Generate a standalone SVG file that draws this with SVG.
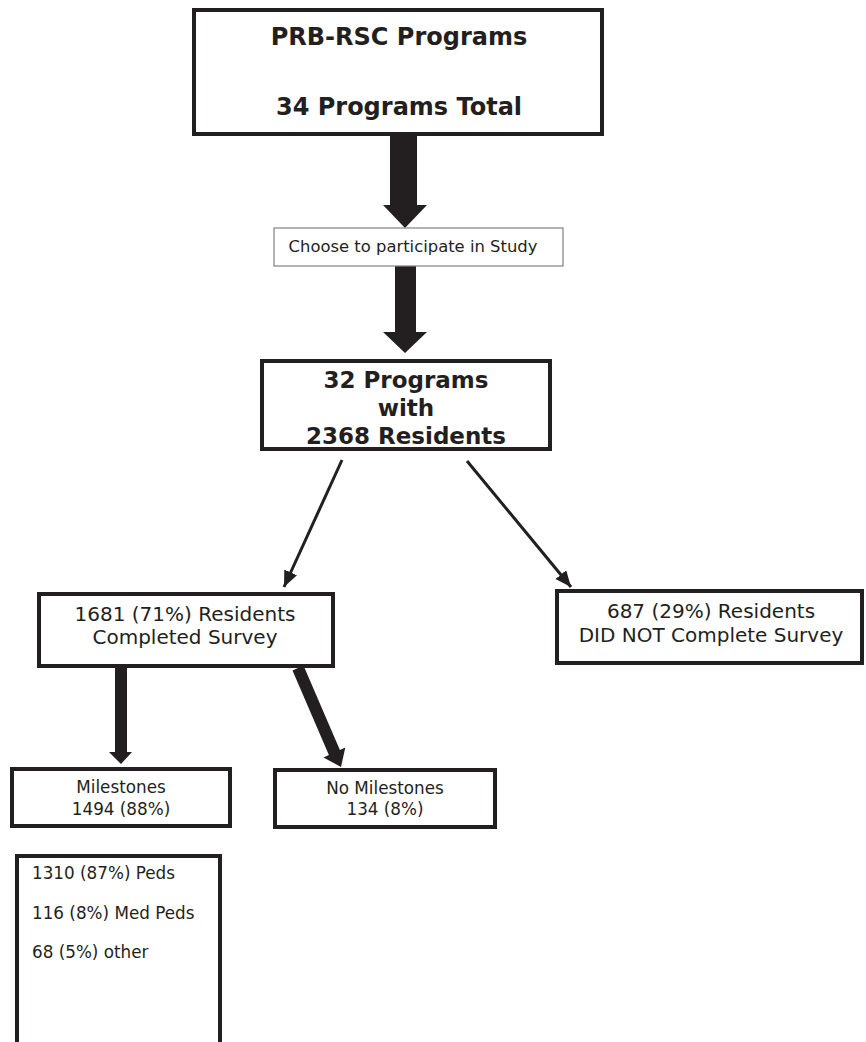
<svg xmlns="http://www.w3.org/2000/svg" width="866" height="1042" viewBox="0 0 866 1042">
  <defs>
    <marker id="thin" markerUnits="userSpaceOnUse" markerWidth="18" markerHeight="16" refX="16" refY="7" orient="auto">
      <path d="M0,0 L16,7 L0,14 Z" fill="#231f20"/>
    </marker>
    <style>
      .box { fill: #fff; stroke: #231f20; stroke-width: 4; }
      .thinbox { fill: #fff; stroke: #808080; stroke-width: 1.2; }
      .blk { fill: #231f20; }
      .conn { stroke: #231f20; stroke-width: 3; fill: none; }
      .t { font-family: "DejaVu Sans", Verdana, sans-serif; fill: #231f20; text-anchor: middle; }
      .b { font-weight: bold; }
      .l { text-anchor: start; }
    </style>
  </defs>
  <rect width="866" height="1042" fill="#fff"/>

  <g id="connectors">
    <polygon class="blk" points="390,134 417,134 417,205 427,205 405,228 383,205 390,205"/>
    <polygon class="blk" points="395,266 416,266 416,332 427,332 405,353 383,332 395,332"/>
    <line class="conn" x1="342" y1="460" x2="284" y2="587" marker-end="url(#thin)"/>
    <line class="conn" x1="467" y1="461" x2="571" y2="587" marker-end="url(#thin)"/>
    <polygon class="blk" points="115,668 127,668 127,752 132,752 121,764 109,752 115,752"/>
    <polygon class="blk" points="303.5,665.5 339.9,749.9 345.3,747.4 341,767 323.5,757.4 328.9,754.9 292.5,670.5"/>
  </g>

  <g id="programs">
    <rect class="box" x="194" y="10" width="408" height="124"/>
    <text class="t b" x="399" y="45" font-size="24">PRB-RSC Programs</text>
    <text class="t b" x="399" y="115" font-size="24">34 Programs Total</text>
  </g>

  <g id="choose">
    <rect class="thinbox" x="274" y="228" width="289" height="38"/>
    <text class="t" x="413" y="252" font-size="16.4">Choose to participate in Study</text>
  </g>

  <g id="participating">
    <rect class="box" x="262" y="361" width="288" height="88"/>
    <text class="t b" x="406" y="388" font-size="23">32 Programs</text>
    <text class="t b" x="406" y="416" font-size="23">with</text>
    <text class="t b" x="406" y="444" font-size="23">2368 Residents</text>
  </g>

  <g id="completed">
    <rect class="box" x="39" y="594" width="294" height="72"/>
    <text class="t" x="185" y="621" font-size="20">1681 (71%) Residents</text>
    <text class="t" x="185" y="644" font-size="20">Completed Survey</text>
  </g>

  <g id="not-completed">
    <rect class="box" x="557" y="591" width="305" height="72"/>
    <text class="t" x="711" y="618" font-size="20">687 (29%) Residents</text>
    <text class="t" x="711" y="642" font-size="20">DID NOT Complete Survey</text>
  </g>

  <g id="milestones">
    <rect class="box" x="12" y="769" width="218" height="57"/>
    <text class="t" x="121" y="793" font-size="16.8">Milestones</text>
    <text class="t" x="121" y="815" font-size="16.8">1494 (88%)</text>
  </g>

  <g id="no-milestones">
    <rect class="box" x="275" y="770" width="220" height="57"/>
    <text class="t" x="385" y="794" font-size="16.8">No Milestones</text>
    <text class="t" x="385" y="815" font-size="16.8">134 (8%)</text>
  </g>

  <g id="breakdown">
    <rect class="box" x="17" y="856" width="203" height="200"/>
    <text class="t l" x="32" y="879" font-size="16.8">1310 (87%) Peds</text>
    <text class="t l" x="32" y="919" font-size="16.8">116 (8%) Med Peds</text>
    <text class="t l" x="32" y="958" font-size="16.8">68 (5%) other</text>
  </g>
</svg>
